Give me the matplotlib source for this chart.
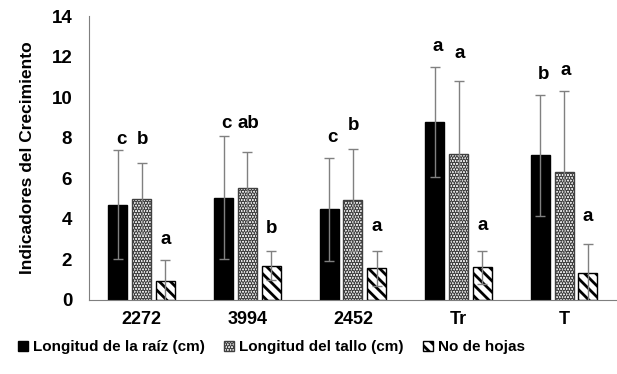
import numpy as np
import matplotlib
matplotlib.use('Agg')
import matplotlib.pyplot as plt

plt.rcParams['font.family'] = ['Liberation Sans', 'DejaVu Sans']
plt.rcParams['font.weight'] = 'bold'
plt.rcParams['hatch.linewidth'] = 2.0

groups = ['2272', '3994', '2452', 'Tr', 'T']
series = ['Longitud de la raíz (cm)', 'Longitud del tallo (cm)', 'No de hojas']

raiz = [4.7, 5.05, 4.47, 8.78, 7.13]
raiz_err = [2.7, 3.05, 2.55, 2.73, 3.0]
tallo = [4.98, 5.5, 4.93, 7.21, 6.3]
tallo_err = [1.75, 1.8, 2.5, 3.6, 4.0]
hojas = [0.95, 1.69, 1.56, 1.61, 1.35]
hojas_err = [1.0, 0.72, 0.87, 0.82, 1.42]

raiz_letras = ['c', 'c', 'c', 'a', 'b']
tallo_letras = ['b', 'ab', 'b', 'a', 'a']
hojas_letras = ['a', 'b', 'a', 'a', 'a']

# heights where the significance letters sit
raiz_letra_y = [7.9, 8.7, 8.0, 12.5, 11.1]
tallo_letra_y = [7.9, 8.7, 8.6, 12.15, 11.3]
hojas_letra_y = [3.0, 3.5, 3.6, 3.65, 4.1]

fig = plt.figure(figsize=(6.17, 3.74), dpi=100)
ax = fig.add_axes([0.144, 0.198, 0.856, 0.759])

x = np.arange(len(groups))
w = 0.18
step = 0.225
err_kw = dict(ecolor='#808080', elinewidth=1.0, capsize=3.5, capthick=1.0)

ax.bar(x - step, raiz, w, yerr=raiz_err, color='black', edgecolor='black',
       linewidth=1, label=series[0], error_kw=err_kw)
ax.bar(x, tallo, w, yerr=tallo_err, color='white', edgecolor='#404040',
       hatch='......', linewidth=1, label=series[1], error_kw=err_kw)
ax.bar(x + step, hojas, w, yerr=hojas_err, color='white', edgecolor='black',
       hatch='\\\\\\', linewidth=1, label=series[2], error_kw=err_kw)

for i in range(len(groups)):
    ax.text(x[i] - step + 0.03, raiz_letra_y[i], raiz_letras[i], ha='center',
            va='center', fontsize=13.5, fontweight='bold')
    ax.text(x[i] + 0.01, tallo_letra_y[i], tallo_letras[i], ha='center',
            va='center', fontsize=13.5, fontweight='bold')
    ax.text(x[i] + step, hojas_letra_y[i], hojas_letras[i], ha='center',
            va='center', fontsize=13.5, fontweight='bold')

ax.set_xlim(-0.5, len(groups) - 0.5)
ax.set_ylim(0, 14)
ax.set_yticks(np.arange(0, 15, 2))
ax.set_xticks(x)
ax.set_xticklabels(groups, fontsize=13, fontweight='bold')
ax.tick_params(axis='y', labelsize=13.5, length=0, pad=12)
ax.tick_params(axis='x', length=0, pad=8)
ax.set_ylabel('Indicadores del Crecimiento', fontsize=12.5, fontweight='bold',
              labelpad=12)

for s in ['top', 'right']:
    ax.spines[s].set_visible(False)
ax.spines['left'].set_color('#7f7f7f')
ax.spines['bottom'].set_color('#7f7f7f')

handles, labels = ax.get_legend_handles_labels()
fig.legend(handles, labels, loc='center', bbox_to_anchor=(0.44, 0.072), ncol=3,
           frameon=False, fontsize=11, handlelength=0.65, handleheight=0.65,
           handletextpad=0.3, columnspacing=1.3)

fig.savefig('out.png', dpi=100)
